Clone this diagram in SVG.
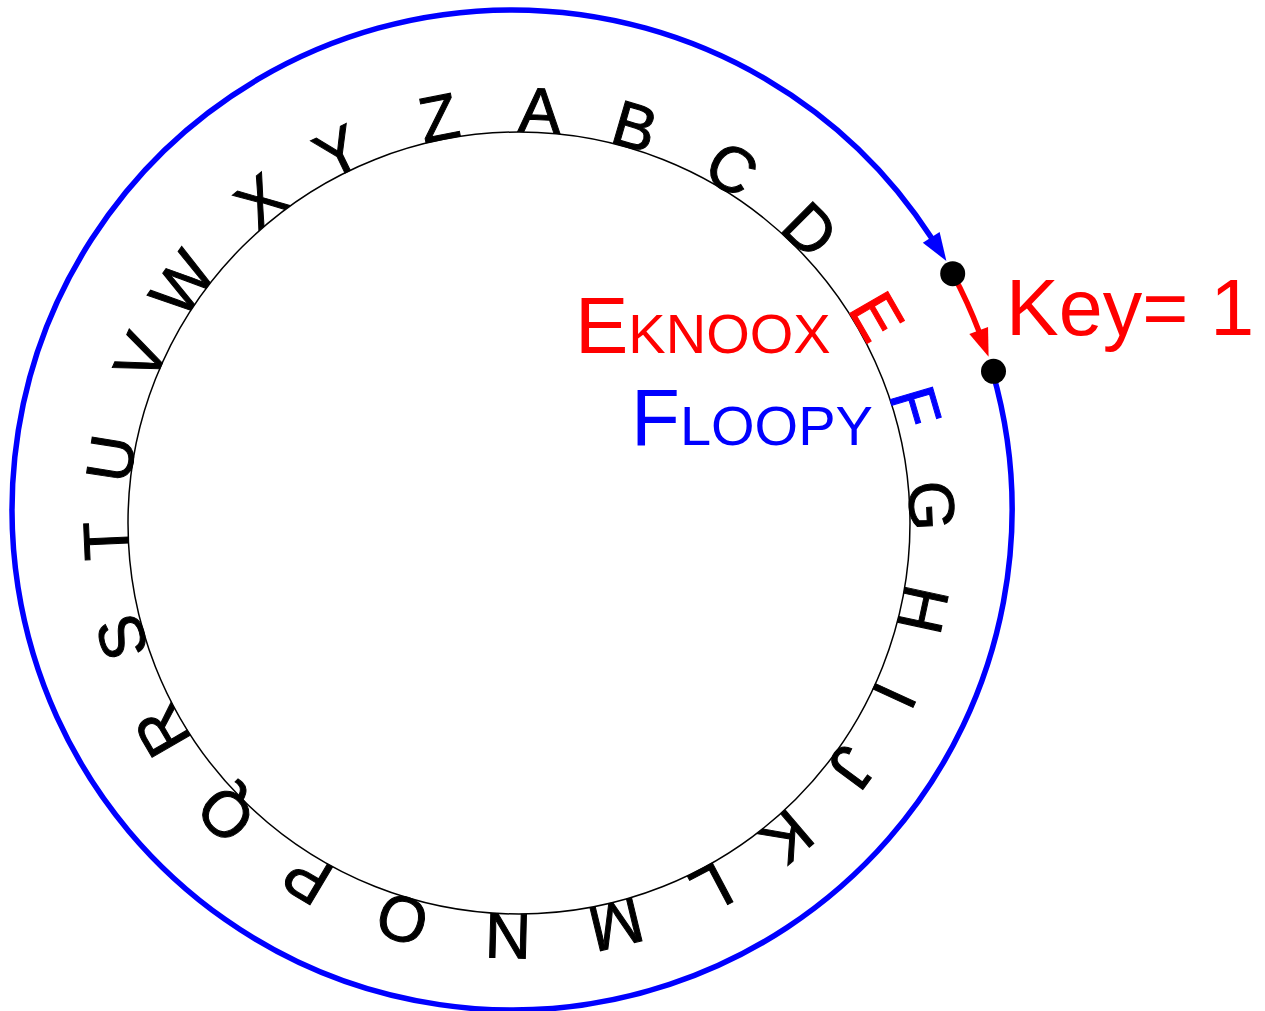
<svg xmlns="http://www.w3.org/2000/svg" width="1265" height="1011" viewBox="0 0 1265 1011">
<style>
.lt{font-family:"Liberation Sans",Arial,sans-serif;font-size:64px;text-anchor:middle;fill:#000;stroke:#000;stroke-width:1}
.lbl{font-family:"Liberation Sans",Arial,sans-serif}
</style>
<defs>
<marker id="ab" viewBox="0 -10 28 20" markerWidth="28" markerHeight="20" refX="2" refY="0" markerUnits="userSpaceOnUse" orient="auto" overflow="visible"><path d="M0,-10 L28,0 L0,10 z" fill="#0000ff"/></marker>
<marker id="ar" viewBox="0 -10 28 20" markerWidth="28" markerHeight="20" refX="2" refY="0" markerUnits="userSpaceOnUse" orient="auto" overflow="visible"><path d="M0,-10 L28,0 L0,10 z" fill="#ff0000"/></marker>
</defs>
<rect width="1265" height="1011" fill="#fff"/>
<g id="inner-wheel">
<circle cx="519" cy="523" r="391" fill="none" stroke="#000" stroke-width="1.5"/>
<text class="lt" x="519" y="132" transform="rotate(2.9 519 523)">A</text>
<text class="lt" x="519" y="132" transform="rotate(16.3 519 523)">B</text>
<text class="lt" x="519" y="132" transform="rotate(31 519 523)">C</text>
<text class="lt" x="519" y="132" transform="rotate(44.8 519 523)">D</text>
<text class="lt" x="519" y="132" transform="rotate(60 519 523)" style="fill:#ff0000;stroke:#ff0000">E</text>
<text class="lt" x="519" y="132" transform="rotate(73.7 519 523)" style="fill:#0000ff;stroke:#0000ff">F</text>
<text class="lt" x="519" y="132" transform="rotate(87.6 519 523)">G</text>
<text class="lt" x="519" y="132" transform="rotate(102.1 519 523)">H</text>
<text class="lt" x="519" y="132" transform="rotate(114.7 519 523)">I</text>
<text class="lt" x="519" y="132" transform="rotate(126.3 519 523)">J</text>
<text class="lt" x="519" y="132" transform="rotate(139.5 519 523)">K</text>
<text class="lt" x="519" y="132" transform="rotate(152.2 519 523)">L</text>
<text class="lt" x="519" y="132" transform="rotate(166.4 519 523)">M</text>
<text class="lt" x="519" y="132" transform="rotate(181.5 519 523)">N</text>
<text class="lt" x="519" y="132" transform="rotate(196.4 519 523)">O</text>
<text class="lt" x="519" y="132" transform="rotate(210.8 519 523)">P</text>
<text class="lt" x="519" y="132" transform="rotate(225.2 519 523)">Q</text>
<text class="lt" x="519" y="132" transform="rotate(239.8 519 523)">R</text>
<text class="lt" x="519" y="132" transform="rotate(253.9 519 523)">S</text>
<text class="lt" x="519" y="132" transform="rotate(267.5 519 523)">T</text>
<text class="lt" x="519" y="132" transform="rotate(279 519 523)">U</text>
<text class="lt" x="519" y="132" transform="rotate(293.7 519 523)">V</text>
<text class="lt" x="519" y="132" transform="rotate(305.4 519 523)">W</text>
<text class="lt" x="519" y="132" transform="rotate(321.3 519 523)">X</text>
<text class="lt" x="519" y="132" transform="rotate(334 519 523)">Y</text>
<text class="lt" x="519" y="132" transform="rotate(348.8 519 523)">Z</text>
</g>
<g id="connectors">
<path d="M992.4,371.3 A500,500 0 1 1 932.3,239.1" fill="none" stroke="#0000ff" stroke-width="5.5" marker-end="url(#ab)"/>
<path d="M952.7,273.7 A500,500 0 0 1 979.4,332.4" fill="none" stroke="#ff0000" stroke-width="5.5" marker-end="url(#ar)"/>
</g>
<g id="dot-start"><circle cx="952.7" cy="273.7" r="12.5" fill="#000"/></g>
<g id="dot-end"><circle cx="993.5" cy="371.3" r="12.5" fill="#000"/></g>
<g id="label-key"><text class="lbl" x="1006" y="335" font-size="79" fill="#ff0000">Key= 1</text></g>
<g id="label-eknoox"><text class="lbl" x="575" y="353" fill="#ff0000"><tspan font-size="80">E</tspan><tspan font-size="56">KNOOX</tspan></text></g>
<g id="label-floopy"><text class="lbl" x="631" y="445" fill="#0000ff"><tspan font-size="80">F</tspan><tspan font-size="56">LOOPY</tspan></text></g>
</svg>
